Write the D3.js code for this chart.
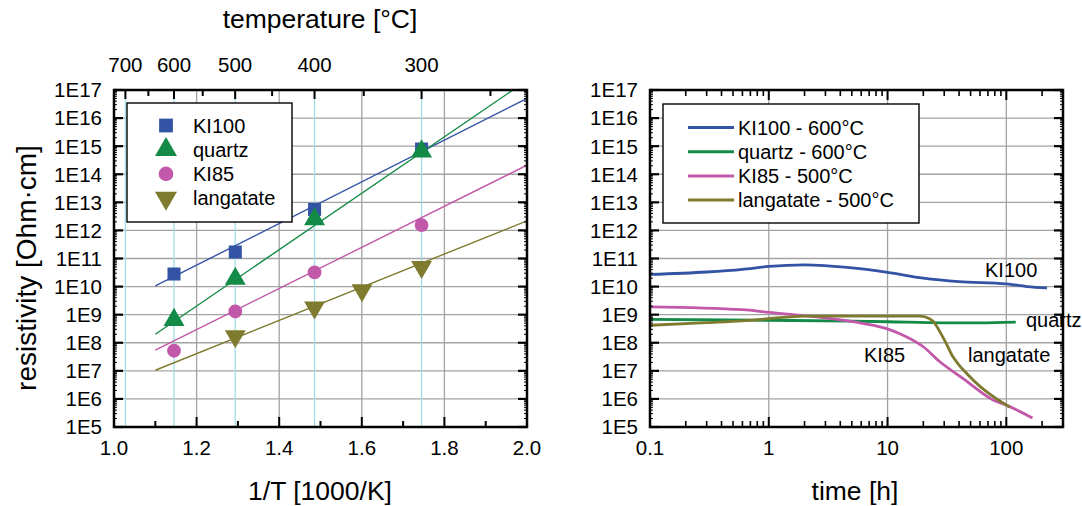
<!DOCTYPE html>
<html>
<head>
<meta charset="utf-8">
<script src="https://cdn.jsdelivr.net/npm/d3@7"></script>
<style>
  html, body { margin: 0; padding: 0; background: #fff; }
  svg { display: block; font-family: "Liberation Sans", Arial, sans-serif; }
</style>
</head>
<body>
<svg id="chart" width="1082" height="506"></svg>
<script>
// ---------------- data ----------------
// left panel: 1/T [1000/K]
const invT = [1.1453, 1.2937, 1.4856, 1.7447];            // 600, 500, 400, 300 °C
const invTLang = [1.2937, 1.4856, 1.6005, 1.7447];
const ki100Pts = [2.8e10, 1.7e11, 5.6e12, 7.9e14];
const quartzPts = [6.5e8, 1.9e10, 2.5e12, 6.5e14];
const ki85Pts = [5.2e7, 1.3e9, 3.2e10, 1.55e12];
const langPts = [1.7e8, 1.8e9, 7.4e9, 5.0e10];
// fitted lines (endpoints)
const fitX = [1.1, 2.0];
const ki100Fit = [1.05e10, 5.0e16];
const quartzFit = [2.0e8, 2.2e17];
const ki85Fit = [5.5e7, 2.1e14];
const langFit = [1.05e7, 2.2e12];
// top axis temperatures
const tempMajor = [700, 600, 500, 400, 300];
const tempMinor = [650, 550, 450, 350, 250];
const xTickLabels = ["1.0", "1.2", "1.4", "1.6", "1.8", "2.0"];

// right panel: time [h]
const ki100Time = [0.1, 0.3, 0.6, 1, 2, 5, 10, 20, 40, 100, 150, 220];
const ki100Res = [2.7e10, 3.3e10, 4.1e10, 5.2e10, 5.9e10, 4.6e10, 3.2e10, 2.0e10, 1.5e10, 1.25e10, 1.0e10, 9.0e9];
const quartzTime = [0.1, 1, 5, 10, 30, 60, 120];
const quartzRes = [6.8e8, 6.3e8, 5.9e8, 5.6e8, 5.1e8, 5.1e8, 5.4e8];
const ki85Time = [0.1, 0.6, 1, 2.4, 6.2, 9.8, 12.7, 20, 27.6, 43, 78, 100, 166];
const ki85Res = [1.9e9, 1.5e9, 1.2e9, 8.5e8, 4.9e8, 3.2e8, 2.1e8, 7.2e7, 2.1e7, 5.4e6, 9.0e5, 6.0e5, 2.1e5];
const langTime = [0.1, 0.3, 0.6, 1, 2, 10, 18.7, 22.6, 25, 28, 31.4, 35, 40, 47, 60, 83, 107];
const langRes = [4.2e8, 5.2e8, 6.0e8, 7.2e8, 8.9e8, 8.9e8, 8.9e8, 7.2e8, 4.9e8, 2.2e8, 8.9e7, 3.5e7, 1.6e7, 7.6e6, 2.8e6, 1.0e6, 5.1e5];
const timeTickLabels = ["0.1", "1", "10", "100"];

const seriesNames = ["KI100", "quartz", "KI85", "langatate"];
const rightLegend = ["KI100 - 600°C", "quartz - 600°C", "KI85 - 500°C", "langatate - 500°C"];
const colors = ["#3353a4", "#138a46", "#c258a9", "#7e7b2f"];

// ---------------- layout ----------------
const svg = d3.select("#chart");
const pTop = 90, pBottom = 427;
const L = {x0: 114, x1: 527};
const R = {x0: 650, x1: 1063};
const gridGray = "#a3a3a3", cyan = "#a4dde8";
const fs = 20.5;
const tfs = 26.5;

const y = d3.scaleLog().domain([1e5, 1e17]).range([pBottom, pTop]);
const xl = d3.scaleLinear().domain([1.0, 2.0]).range([L.x0, L.x1]);
const xr = d3.scaleLog().domain([0.1, 300]).range([R.x0, R.x1]);

const decades = d3.range(5, 18).map(e => Math.pow(10, e));
const minorY = [];
for (let e = 5; e < 17; e++) for (let m = 2; m <= 9; m++) minorY.push(m * Math.pow(10, e));

svg.append("defs").selectAll("clipPath").data([["clipL", L], ["clipR", R]]).join("clipPath")
  .attr("id", d => d[0]).append("rect")
  .attr("x", d => d[1].x0).attr("y", pTop).attr("width", d => d[1].x1 - d[1].x0).attr("height", pBottom - pTop);

function yAxisStuff(P) {
  const g = svg.append("g");
  g.selectAll("line.hg").data(decades.slice(1, -1)).join("line")
    .attr("x1", P.x0).attr("x2", P.x1).attr("y1", d => y(d)).attr("y2", d => y(d))
    .attr("stroke", gridGray).attr("stroke-width", 1.3);
  return g;
}
function frameTicks(P) {
  const g = svg.append("g");
  g.selectAll("line.ymL").data(decades).join("line")
    .attr("x1", P.x0).attr("x2", P.x0 + 9).attr("y1", d => y(d)).attr("y2", d => y(d))
    .attr("stroke", "#000").attr("stroke-width", 2.2);
  g.selectAll("line.ymR").data(decades).join("line")
    .attr("x1", P.x1).attr("x2", P.x1 - 9).attr("y1", d => y(d)).attr("y2", d => y(d))
    .attr("stroke", "#000").attr("stroke-width", 2.2);
  g.selectAll("line.ynL").data(minorY).join("line")
    .attr("x1", P.x0).attr("x2", P.x0 + 3).attr("y1", d => y(d)).attr("y2", d => y(d))
    .attr("stroke", "#000").attr("stroke-width", 1);
  g.selectAll("line.ynR").data(minorY).join("line")
    .attr("x1", P.x1).attr("x2", P.x1 - 3).attr("y1", d => y(d)).attr("y2", d => y(d))
    .attr("stroke", "#000").attr("stroke-width", 1);
  svg.append("g").selectAll("text").data(decades).join("text")
    .attr("x", P.x0 - 12).attr("y", d => y(d)).attr("dy", "0.36em")
    .attr("text-anchor", "end").attr("font-size", fs)
    .text(d => "1E" + Math.round(Math.log10(d)));
  svg.append("rect").attr("x", P.x0).attr("y", pTop).attr("width", P.x1 - P.x0).attr("height", pBottom - pTop)
    .attr("fill", "none").attr("stroke", "#000").attr("stroke-width", 2.5);
}

// ---------------- LEFT PANEL ----------------
yAxisStuff(L);
const lg = svg.append("g");
lg.selectAll("line.vg").data([1.2, 1.4, 1.6, 1.8]).join("line")
  .attr("x1", d => xl(d)).attr("x2", d => xl(d)).attr("y1", pTop).attr("y2", pBottom)
  .attr("stroke", gridGray).attr("stroke-width", 1.3);
const tK = t => 1000 / (t + 273.15);
lg.selectAll("line.cy").data(tempMajor).join("line")
  .attr("x1", d => xl(tK(d))).attr("x2", d => xl(tK(d))).attr("y1", pTop).attr("y2", pBottom)
  .attr("stroke", cyan).attr("stroke-width", 1.3);

const xMinor = d3.range(11).map(i => 1 + i * 0.1);
lg.selectAll("line.bt").data(xMinor).join("line")
  .attr("x1", d => xl(d)).attr("x2", d => xl(d))
  .attr("y1", pBottom).attr("y2", (d, i) => pBottom - (i % 2 === 0 ? 10 : 6))
  .attr("stroke", "#000").attr("stroke-width", 2);
lg.selectAll("text.bl").data(xTickLabels).join("text")
  .attr("x", d => xl(+d)).attr("y", 455).attr("text-anchor", "middle").attr("font-size", fs).text(d => d);
lg.selectAll("line.tt").data(tempMajor.concat(tempMinor)).join("line")
  .attr("x1", d => xl(tK(d))).attr("x2", d => xl(tK(d)))
  .attr("y1", pTop).attr("y2", d => pTop + (tempMajor.includes(d) ? 9 : 6))
  .attr("stroke", "#000").attr("stroke-width", 2);
lg.selectAll("text.tl").data(tempMajor).join("text")
  .attr("x", d => xl(tK(d))).attr("y", 72).attr("text-anchor", "middle").attr("font-size", fs).text(d => d);

const fits = [ki100Fit, quartzFit, ki85Fit, langFit];
const lineL = d3.line().x(d => xl(d[0])).y(d => y(d[1]));
svg.append("g").attr("clip-path", "url(#clipL)").selectAll("path").data(fits).join("path")
  .attr("d", f => lineL(fitX.map((x, i) => [x, f[i]])))
  .attr("fill", "none").attr("stroke", (d, i) => colors[i]).attr("stroke-width", 1.4);

const symTypes = [d3.symbolSquare, d3.symbolTriangle, d3.symbolCircle, d3.symbolTriangle];
const symSizes = [170, 190, 150, 190];
const symRot = [0, 0, 0, 180];
const ptsX = [invT, invT, invT, invTLang];
const ptsY = [ki100Pts, quartzPts, ki85Pts, langPts];
const mg = svg.append("g");
ptsY.forEach((vals, s) => {
  mg.append("g").selectAll("path").data(vals.map((v, i) => [ptsX[s][i], v])).join("path")
    .attr("d", d3.symbol().type(symTypes[s]).size(symSizes[s]))
    .attr("transform", d => `translate(${xl(d[0])},${y(d[1])}) rotate(${symRot[s]})`)
    .attr("fill", colors[s]);
});

frameTicks(L);

const lleg = svg.append("g");
lleg.append("rect").attr("x", 127).attr("y", 103).attr("width", 165).attr("height", 119)
  .attr("fill", "#fff").attr("stroke", "#000").attr("stroke-width", 1.4);
seriesNames.forEach((n, i) => {
  const yy = 125.5 + i * 24.2;
  lleg.append("path").attr("d", d3.symbol().type(symTypes[i]).size(symSizes[i] + 20))
    .attr("transform", `translate(166,${yy}) rotate(${symRot[i]})`).attr("fill", colors[i]);
  lleg.append("text").attr("x", 193).attr("y", yy).attr("dy", "0.36em").attr("font-size", 20).text(n);
});

svg.append("text").attr("x", 320).attr("y", 28).attr("text-anchor", "middle").attr("font-size", tfs).text("temperature [°C]");
svg.append("text").attr("x", 320).attr("y", 500).attr("text-anchor", "middle").attr("font-size", tfs).text("1/T [1000/K]");
svg.append("text").attr("transform", "translate(36,268) rotate(-90)").attr("text-anchor", "middle").attr("font-size", 28).text("resistivity [Ohm·cm]");

// ---------------- RIGHT PANEL ----------------
yAxisStuff(R);
const rg = svg.append("g");
rg.selectAll("line.vg").data([1, 10, 100]).join("line")
  .attr("x1", d => xr(d)).attr("x2", d => xr(d)).attr("y1", pTop).attr("y2", pBottom)
  .attr("stroke", gridGray).attr("stroke-width", 1.3);

const timeMajor = [0.1, 1, 10, 100];
const timeMinor = [];
for (let e = -1; e <= 2; e++) for (let m = 2; m <= 9; m++) { const v = m * Math.pow(10, e); if (v <= 300) timeMinor.push(v); }
[pBottom, pTop].forEach(yy => {
  const dir = yy === pBottom ? -1 : 1;
  rg.append("g").selectAll("line").data(timeMajor).join("line")
    .attr("x1", d => xr(d)).attr("x2", d => xr(d)).attr("y1", yy).attr("y2", yy + dir * 10)
    .attr("stroke", "#000").attr("stroke-width", 2);
  rg.append("g").selectAll("line").data(timeMinor).join("line")
    .attr("x1", d => xr(d)).attr("x2", d => xr(d)).attr("y1", yy).attr("y2", yy + dir * 6)
    .attr("stroke", "#000").attr("stroke-width", 1.6);
});
rg.append("g").selectAll("text").data(timeTickLabels).join("text")
  .attr("x", d => xr(+d)).attr("y", 455).attr("text-anchor", "middle").attr("font-size", fs).text(d => d);

const curves = [[ki100Time, ki100Res], [quartzTime, quartzRes], [ki85Time, ki85Res], [langTime, langRes]];
const lineR = d3.line().x(d => xr(d[0])).y(d => y(d[1])).curve(d3.curveMonotoneX);
svg.append("g").attr("clip-path", "url(#clipR)").selectAll("path").data(curves).join("path")
  .attr("d", c => lineR(c[0].map((t, i) => [t, c[1][i]])))
  .attr("fill", "none").attr("stroke", (d, i) => colors[i]).attr("stroke-width", 2.8);

frameTicks(R);

const curveLabels = [
  {t: "KI100", x: 985, y: 277},
  {t: "quartz", x: 1026, y: 327},
  {t: "KI85", x: 864, y: 362},
  {t: "langatate", x: 968, y: 362}
];
svg.append("g").selectAll("text").data(curveLabels).join("text")
  .attr("x", d => d.x).attr("y", d => d.y).attr("font-size", 20).text(d => d.t);

const rleg = svg.append("g");
rleg.append("rect").attr("x", 663).attr("y", 104).attr("width", 256).attr("height", 119)
  .attr("fill", "#fff").attr("stroke", "#000").attr("stroke-width", 1.4);
rightLegend.forEach((n, i) => {
  const yy = 127.5 + i * 24.2;
  rleg.append("line").attr("x1", 688).attr("x2", 734).attr("y1", yy).attr("y2", yy)
    .attr("stroke", colors[i]).attr("stroke-width", 3);
  rleg.append("text").attr("x", 738).attr("y", yy).attr("dy", "0.36em").attr("font-size", 20).text(n);
});

svg.append("text").attr("x", 855).attr("y", 500).attr("text-anchor", "middle").attr("font-size", tfs).text("time [h]");
</script>
</body>
</html>
